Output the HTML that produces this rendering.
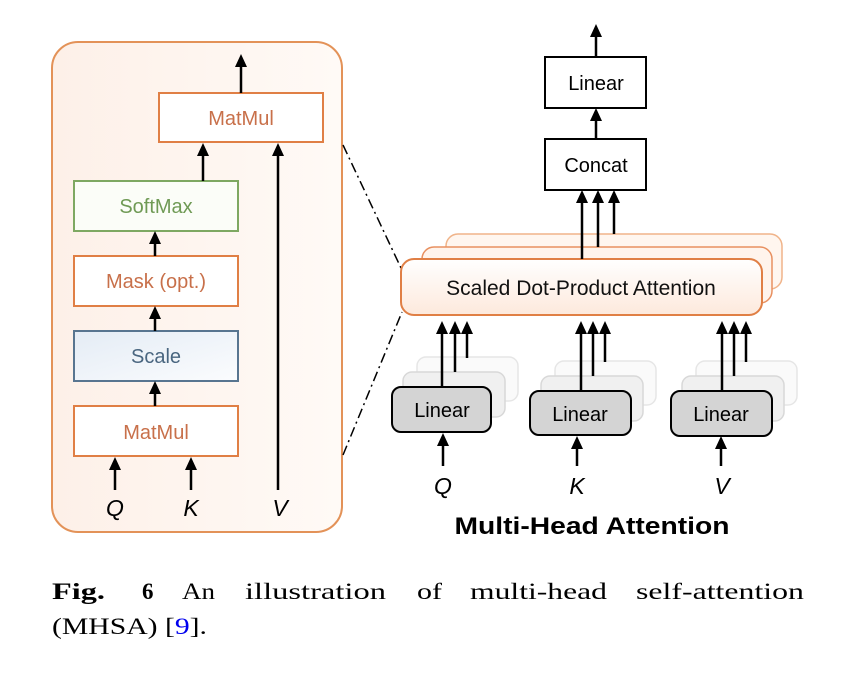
<!DOCTYPE html>
<html><head><meta charset="utf-8"><style>
html,body{margin:0;padding:0;background:#fff;}
svg{display:block;}
.s{font-family:"Liberation Sans",sans-serif;}
.r{font-family:"Liberation Serif",serif;}
</style></head><body>
<svg width="842" height="674" viewBox="0 0 842 674" xmlns="http://www.w3.org/2000/svg">
<defs>
<linearGradient id="og" x1="0" y1="0" x2="0" y2="1"><stop offset="0" stop-color="#fff"/><stop offset="1" stop-color="#fde9dc"/></linearGradient>
<linearGradient id="bg" x1="0" y1="0" x2="1" y2="1"><stop offset="0" stop-color="#e4ecf5"/><stop offset="1" stop-color="#fbfcfe"/></linearGradient>
<linearGradient id="pg" x1="0" y1="0" x2="1" y2="0"><stop offset="0" stop-color="#fdf0e8"/><stop offset="1" stop-color="#fffaf6"/></linearGradient>
</defs>
<g fill="none">
<rect x="52" y="42" width="290" height="490" rx="26" fill="url(#pg)" stroke="#e39258" stroke-width="2"/>
<rect x="159" y="93" width="164" height="49" fill="#fff" stroke="#e07f45" stroke-width="2"/>
<rect x="74" y="181" width="164" height="50" fill="#fbfdf8" stroke="#7ea862" stroke-width="2"/>
<rect x="74" y="256" width="164" height="50" fill="#fff" stroke="#e07f45" stroke-width="2"/>
<rect x="74" y="331" width="164" height="50" fill="url(#bg)" stroke="#587590" stroke-width="2"/>
<rect x="74" y="406" width="164" height="50" fill="#fff" stroke="#e07f45" stroke-width="2"/>
</g>
<g stroke="#000" stroke-width="2.5">
<line x1="241" y1="93" x2="241" y2="62"/>
<line x1="203" y1="181" x2="203" y2="152"/>
<line x1="155" y1="256" x2="155" y2="240"/>
<line x1="155" y1="331" x2="155" y2="315"/>
<line x1="155" y1="406" x2="155" y2="390"/>
<line x1="115" y1="490" x2="115" y2="466"/>
<line x1="191" y1="490" x2="191" y2="466"/>
<line x1="278" y1="490" x2="278" y2="152"/>
</g>
<g fill="#000">
<polygon points="241,54 235,67 247,67"/>
<polygon points="203,143 197,156 209,156"/>
<polygon points="155,231 149,244 161,244"/>
<polygon points="155,306 149,319 161,319"/>
<polygon points="155,381 149,394 161,394"/>
<polygon points="115,457 109,470 121,470"/>
<polygon points="191,457 185,470 197,470"/>
<polygon points="278,143 272,156 284,156"/>
</g>
<g class="s" font-size="20" text-anchor="middle">
<text x="241" y="125" fill="#c8704a">MatMul</text>
<text x="156" y="213" fill="#6f9a55">SoftMax</text>
<text x="156" y="288" fill="#c8704a">Mask (opt.)</text>
<text x="156" y="363" fill="#4a6680">Scale</text>
<text x="156" y="439" fill="#c8704a">MatMul</text>
<g font-style="italic" font-size="23" fill="#000">
<text x="115" y="516">Q</text><text x="191" y="516">K</text><text x="280" y="516">V</text>
</g>
</g>
<g stroke="#000" stroke-width="1.5" stroke-dasharray="10,4,2,4" fill="none">
<line x1="343" y1="145" x2="401" y2="268"/>
<line x1="343" y1="455" x2="402" y2="312"/>
</g>
<rect x="446" y="234" width="336" height="55" rx="12" fill="#fff6ef" stroke="#f0b48a" stroke-width="1.5"/>
<rect x="422" y="247" width="350" height="56" rx="12" fill="#fff4ec" stroke="#e89060" stroke-width="1.5"/>
<rect x="401" y="259" width="361" height="56" rx="13" fill="url(#og)" stroke="#e07f45" stroke-width="2"/>
<text class="s" x="581" y="295" font-size="21" text-anchor="middle" fill="#111">Scaled Dot-Product Attention</text>
<rect x="545" y="57" width="101" height="51" fill="#fff" stroke="#000" stroke-width="2"/>
<rect x="545" y="139" width="101" height="51" fill="#fff" stroke="#000" stroke-width="2"/>
<text class="s" x="596" y="90" font-size="20" text-anchor="middle">Linear</text>
<text class="s" x="596" y="172" font-size="20" text-anchor="middle">Concat</text>
<g stroke="#000" stroke-width="2.5">
<line x1="596" y1="57" x2="596" y2="32"/>
<line x1="596" y1="139" x2="596" y2="116"/>
<line x1="582" y1="259" x2="582" y2="198"/>
<line x1="598" y1="247" x2="598" y2="198"/>
<line x1="614" y1="234" x2="614" y2="198"/>
</g>
<g fill="#000">
<polygon points="596,24 590,37 602,37"/>
<polygon points="596,108 590,121 602,121"/>
<polygon points="582,190 576,203 588,203"/>
<polygon points="598,190 592,203 604,203"/>
<polygon points="614,190 608,203 620,203"/>
</g>
<g>
<rect x="417" y="357" width="101" height="44" rx="9" fill="#fafafa" stroke="#e6e6e6" stroke-width="1.5"/>
<rect x="403" y="372" width="102" height="45" rx="9" fill="#f0f0f0" stroke="#d8d8d8" stroke-width="1.5"/>
<g transform="translate(138,4)">
<rect x="417" y="357" width="101" height="44" rx="9" fill="#fafafa" stroke="#e6e6e6" stroke-width="1.5"/>
<rect x="403" y="372" width="102" height="45" rx="9" fill="#f0f0f0" stroke="#d8d8d8" stroke-width="1.5"/>
</g>
<g transform="translate(279,4)">
<rect x="417" y="357" width="101" height="44" rx="9" fill="#fafafa" stroke="#e6e6e6" stroke-width="1.5"/>
<rect x="403" y="372" width="102" height="45" rx="9" fill="#f0f0f0" stroke="#d8d8d8" stroke-width="1.5"/>
</g>
<g stroke="#000" stroke-width="2.5">
<line x1="442" y1="387" x2="442" y2="330"/><line x1="455" y1="372" x2="455" y2="330"/><line x1="467" y1="358" x2="467" y2="330"/>
<line x1="581" y1="391" x2="581" y2="330"/><line x1="593" y1="376" x2="593" y2="330"/><line x1="605" y1="362" x2="605" y2="330"/>
<line x1="722" y1="391" x2="722" y2="330"/><line x1="734" y1="376" x2="734" y2="330"/><line x1="746" y1="362" x2="746" y2="330"/>
<line x1="443" y1="466" x2="443" y2="442"/><line x1="577" y1="466" x2="577" y2="444"/><line x1="721" y1="466" x2="721" y2="444"/>
</g>
<g fill="#000">
<polygon points="442,321 436,334 448,334"/><polygon points="455,321 449,334 461,334"/><polygon points="467,321 461,334 473,334"/>
<polygon points="581,321 575,334 587,334"/><polygon points="593,321 587,334 599,334"/><polygon points="605,321 599,334 611,334"/>
<polygon points="722,321 716,334 728,334"/><polygon points="734,321 728,334 740,334"/><polygon points="746,321 740,334 752,334"/>
<polygon points="443,433 437,446 449,446"/><polygon points="577,436 571,449 583,449"/><polygon points="721,436 715,449 727,449"/>
</g>
<rect x="392" y="387" width="99" height="45" rx="9" fill="#d4d4d4" stroke="#000" stroke-width="2"/>
<rect x="530" y="391" width="101" height="44" rx="9" fill="#d4d4d4" stroke="#000" stroke-width="2"/>
<rect x="671" y="391" width="101" height="45" rx="9" fill="#d4d4d4" stroke="#000" stroke-width="2"/>
<g class="s" font-size="20" text-anchor="middle">
<text x="442" y="417">Linear</text><text x="580" y="421">Linear</text><text x="721" y="421">Linear</text>
</g>
<g class="s" font-size="23" font-style="italic" text-anchor="middle">
<text x="443" y="494">Q</text><text x="577" y="494">K</text><text x="722" y="494">V</text>
</g>
<text class="s" x="592" y="534" font-size="24" font-weight="bold" text-anchor="middle" textLength="275" lengthAdjust="spacingAndGlyphs">Multi-Head Attention</text>
</g>
<g class="r" font-size="23">
<text x="52" y="599" font-weight="bold" textLength="53" lengthAdjust="spacingAndGlyphs">Fig.</text>
<text x="142" y="599" font-weight="bold">6</text>
<text x="182" y="599" textLength="33" lengthAdjust="spacingAndGlyphs">An</text>
<text x="245" y="599" textLength="141" lengthAdjust="spacingAndGlyphs">illustration</text>
<text x="417" y="599" textLength="25" lengthAdjust="spacingAndGlyphs">of</text>
<text x="470" y="599" textLength="137" lengthAdjust="spacingAndGlyphs">multi-head</text>
<text x="636" y="599" textLength="168" lengthAdjust="spacingAndGlyphs">self-attention</text>
<text x="52" y="634" textLength="155" lengthAdjust="spacingAndGlyphs">(MHSA) [<tspan fill="#0000ee">9</tspan>].</text>
</g>
</svg>
</body></html>
